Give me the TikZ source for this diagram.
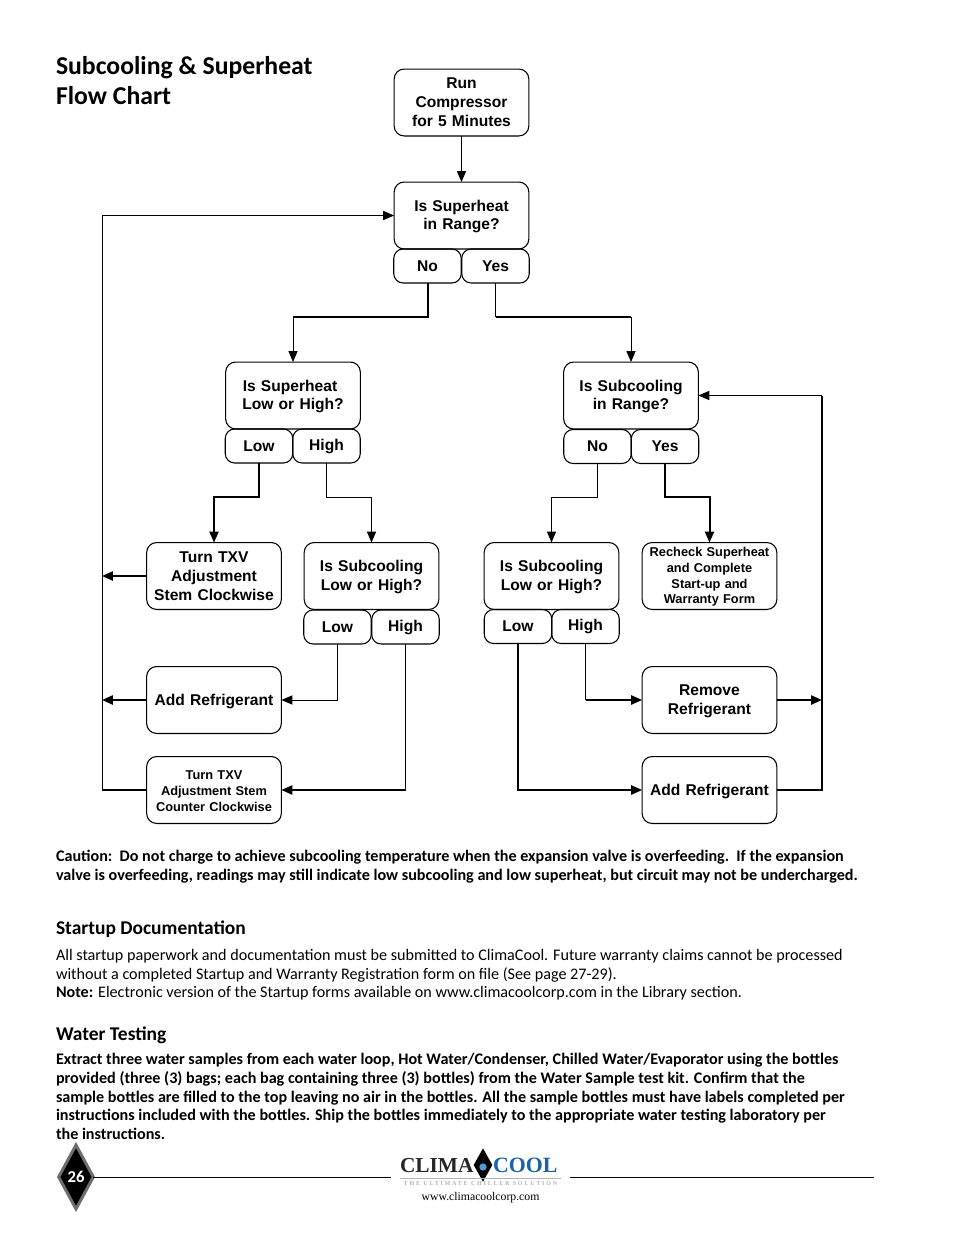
\documentclass[tikz,border=0pt]{standalone}
\usepackage{fontspec}
\setmainfont{Carlito}
\newfontfamily\arialfont{Liberation Sans}
\newfontfamily\timesfont{Liberation Serif}
\usetikzlibrary{shapes.geometric,arrows.meta,positioning}
\definecolor{logoblue}{HTML}{1C62A6}
\definecolor{logodrop}{HTML}{4F9BD5}
\definecolor{logogray}{HTML}{B4B4B4}
\definecolor{rimgray}{HTML}{6E6E6E}

\begin{document}
\begin{tikzpicture}[x=0.75pt,y=-0.75pt,every node/.append style={inner sep=0pt,outer sep=0pt}]
    \tikzstyle{box}=[rectangle, rounded corners=7.5pt, draw=black, line width=0.8pt, minimum width=101pt, minimum height=50.2pt, align=center, text width=99pt, font=\arialfont\bfseries\fontsize{11.7}{14.2}\selectfont]
    \tikzstyle{lowbox}=[box, execute at begin node={\rule{0pt}{10pt}}]
    \tikzstyle{smallbox}=[box, font=\arialfont\bfseries\fontsize{9.6}{11.8}\selectfont, execute at begin node={\rule{0pt}{8.4pt}}]
    \tikzstyle{answer}=[box, minimum width=50.6pt, minimum height=25.5pt, text width=48pt, rounded corners=7pt]
    \tikzstyle{tip}=[-{Triangle[length=8.2pt,width=6.8pt]}]
    \tikzstyle{wire}=[line width=0.75pt]
    \tikzstyle{fatwire}=[line width=1.5pt]
    \tikzstyle{hairline}=[line width=0.65pt]
    \tikzstyle{headline}=[anchor=north west, align=left, font=\bfseries\fontsize{19.3}{22.5}\selectfont]
    \tikzstyle{subhead}=[anchor=west, font=\bfseries\fontsize{14.6}{16}\selectfont]
    \tikzstyle{para}=[anchor=north west, align=left, font=\fontsize{12.1}{13.95}\selectfont]
    \tikzstyle{boldpara}=[para, font=\bfseries\fontsize{12.1}{13.95}\selectfont]
    \useasboundingbox (0,0) rectangle (954,1235);

    % heading
    \node[headline] (title) at (56,56) {Subcooling \& Superheat\\Flow Chart};

    % question boxes with their answers
    \node[box] (run) at (461.5,102.5) {Run\\Compressor\\for 5 Minutes};
    \node[lowbox] (sheatrange) at (461.5,215.5) {Is Superheat\\in Range?};
    \node[answer] (sheatno) at (427.5,266) {No};
    \node[answer] (sheatyes) at (495.5,266) {Yes};
    \node[lowbox] (sheatlevel) at (293,395.5) {Is Superheat\rule{4.5pt}{0pt}\\Low or High?};
    \node[answer] (sheatlow) at (259,446) {Low};
    \node[answer] (sheathigh) at (326.5,446) {High};
    \node[lowbox] (scoolrange) at (631,395.5) {Is Subcooling\\in Range?};
    \node[answer] (scoolno) at (597.5,446.5) {No};
    \node[answer] (scoolyes) at (665,446.5) {Yes};
    \node[lowbox] (leftlevel) at (371.5,576) {Is Subcooling\\Low or High?};
    \node[answer] (leftlow) at (337.5,627) {Low};
    \node[answer] (lefthigh) at (405.5,627) {High};
    \node[lowbox] (rightlevel) at (551.5,576) {Is Subcooling\\Low or High?};
    \node[answer] (rightlow) at (518,626.5) {Low};
    \node[answer] (righthigh) at (585.5,626.5) {High};

    % action boxes
    \node[box] (txvcw) at (214,576) {Turn TXV\\Adjustment\\Stem Clockwise};
    \node[smallbox] (recheck) at (709.5,576) {Recheck Superheat\\and Complete\\Start-up and\\Warranty Form};
    \node[lowbox] (addleft) at (214,700) {Add Refrigerant};
    \node[lowbox] (remove) at (709.5,700) {Remove\\Refrigerant};
    \node[smallbox] (txvccw) at (214,790) {Turn TXV\\Adjustment Stem\\Counter Clockwise};
    \node[lowbox] (addright) at (709.5,790) {Add Refrigerant};

    % return lines and elbows
    \coordinate (leftrail) at (102,215.5);
    \coordinate (rightrail) at (822,395.5);
    \coordinate (noelbow) at (sheatno.south |- 0,317);
    \coordinate (yeselbow) at (sheatyes.south |- 0,317);
    \coordinate (lowdrop) at (sheatlevel.north |- 0,317);
    \coordinate (yesdrop) at (scoolrange.north |- 0,317);

    \draw[wire,tip] (run) -- (sheatrange);
    \draw[fatwire] (sheatno.south) -- (noelbow) -- (lowdrop);
    \draw[wire,tip] (lowdrop) -- (sheatlevel.north);
    \draw[wire] (sheatyes.south) -- (yeselbow);
    \draw[fatwire] (yeselbow) -- (yesdrop);
    \draw[wire,tip] (yesdrop) -- (scoolrange.north);
    \foreach \from/\to/\ybend in {sheatlow/txvcw/497,scoolyes/recheck/497} {
        \draw[fatwire,tip] (\from.south) -- (\from.south |- 0,\ybend) -| (\to.north);
    }
    \foreach \from/\to/\ybend in {sheathigh/leftlevel/497,scoolno/rightlevel/497} {
        \draw[wire,tip] (\from.south) -- (\from.south |- 0,\ybend) -| (\to.north);
    }
    \draw[wire,tip] (leftlow.south) |- (addleft.east);
    \draw[wire] (lefthigh.south) -- (lefthigh.south |- txvccw.east);
    \draw[fatwire,tip] (lefthigh.south |- txvccw.east) -- (txvccw.east);
    \draw[wire] (righthigh.south) -- (righthigh.south |- remove.west);
    \draw[fatwire,tip] (righthigh.south |- remove.west) -- (remove.west);
    \draw[fatwire,tip] (rightlow.south) |- (addright.west);

    \draw[fatwire] (txvccw.west) -- (txvccw.west -| leftrail);
    \draw[wire,tip] (txvccw.west -| leftrail) -- (leftrail) -- (sheatrange.west);
    \draw[fatwire,tip] (txvcw.west) -- (txvcw.west -| leftrail);
    \draw[fatwire,tip] (addleft.west) -- (addleft.west -| leftrail);

    \draw[fatwire,tip] (remove.east) -- (remove.east -| rightrail);
    \draw[fatwire] (addright.east) -- (addright.east -| rightrail) -- (rightrail);
    \draw[wire,tip] (rightrail) -- (scoolrange.east);

    % text under the chart
    \node[boldpara] (caution) at (56,850.5) {Caution:\ \ Do not charge to achieve subcooling temperature when the expansion valve is overfeeding.\ \ If the expansion\\valve is overfeeding, readings may still indicate low subcooling and low superheat, but circuit may not be undercharged.};
    \node[subhead] (startup) at (56,929) {Startup Documentation};
    \node[para] (startuptext) at (56,949.5) {All startup paperwork and documentation must be submitted to ClimaCool. Future warranty claims cannot be processed\\without a completed Startup and Warranty Registration form on file (See page 27-29).\\\textbf{Note:} Electronic version of the Startup forms available on www.climacoolcorp.com in the Library section.};
    \node[subhead] (water) at (56,1035) {Water Testing};
    \node[boldpara] (watertext) at (56,1053.5) {Extract three water samples from each water loop, Hot Water/Condenser, Chilled Water/Evaporator using the bottles\\provided (three (3) bags; each bag containing three (3) bottles) from the Water Sample test kit. Confirm that the\\sample bottles are filled to the top leaving no air in the bottles. All the sample bottles must have labels completed per\\instructions included with the bottles. Ship the bottles immediately to the appropriate water testing laboratory per\\the instructions.};

    % footer
    \node[diamond, aspect=0.56, fill=black, draw=rimgray, line width=2.2pt, minimum width=26pt, minimum height=48pt, text=white, font=\bfseries\fontsize{12.5}{12}\selectfont] (pagemark) at (76,1177) {26};
    \coordinate (ruleleft) at (391,1177);
    \coordinate (ruleright) at (570,1177);
    \coordinate (ruleend) at (874,1177);
    \draw[hairline] (pagemark.east) -- (ruleleft);
    \draw[hairline] (ruleright) -- (ruleend);
    \node[anchor=east, font=\timesfont\bfseries\fontsize{16}{17}\selectfont, text=black!85] (logoleft) at (473.5,1165.5) {CLIMA};
    \node[anchor=west, font=\timesfont\bfseries\fontsize{16.4}{17}\selectfont, text=logoblue] (logoright) at (493,1165.5) {COOL};
    \node[diamond, aspect=0.6, fill=black, minimum width=14pt, minimum height=25pt] (logomark) at (483,1165) {};
    \node[circle, fill=logodrop, minimum size=5.5pt] (logodropmark) at (483,1167) {};
    \node[anchor=north, text=logogray, font=\timesfont\bfseries\fontsize{4.6}{5}\selectfont\addfontfeature{LetterSpace=28}] (logotag) at (480.5,1181) {THE ULTIMATE CHILLER SOLUTION};
    \coordinate (logobarl) at (400,1178.5);
    \coordinate (logobarr) at (561,1178.5);
    \draw[logogray, line width=1pt] (logobarl) -- (logobarr);
    \node[anchor=north, font=\timesfont\fontsize{8.8}{10}\selectfont] (logourl) at (480.5,1192.5) {www.climacoolcorp.com};
\end{tikzpicture}
\end{document}
